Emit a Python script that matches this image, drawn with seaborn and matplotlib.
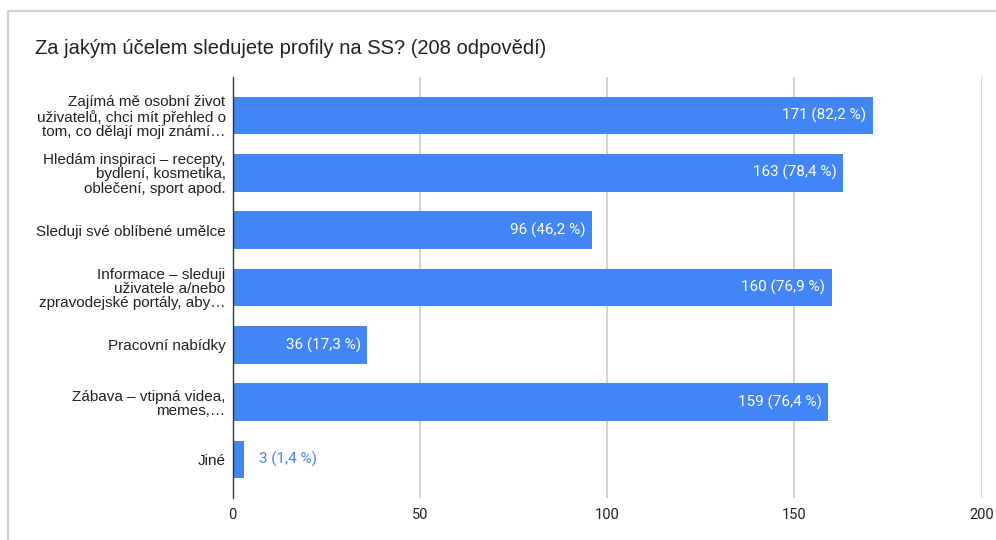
import matplotlib
matplotlib.use("Agg")
import matplotlib.pyplot as plt
import seaborn as sns
import pandas as pd
from matplotlib.lines import Line2D

categories = [
    "Zajímá mě osobní život\nuživatelů, chci mít přehled o\ntom, co dělají moji známí…",
    "Hledám inspiraci – recepty,\nbydlení, kosmetika,\noblečení, sport apod.",
    "Sleduji své oblíbené umělce",
    "Informace – sleduji\nuživatele a/nebo\nzpravodejské portály, aby…",
    "Pracovní nabídky",
    "Zábava – vtipná videa,\nmemes,…",
    "Jiné",
]
counts = [171, 163, 96, 160, 36, 159, 3]
percents = ["82,2", "78,4", "46,2", "76,9", "17,3", "76,4", "1,4"]
xticks = [0, 50, 100, 150, 200]
title = "Za jakým účelem sledujete profily na SS? (208 odpovědí)"

BLUE = "#4285F4"

sns.set_theme(style="white")
plt.rcParams["font.family"] = ["Liberation Sans", "DejaVu Sans"]

df = pd.DataFrame({"kategorie": categories, "pocet": counts})

W, H = 996, 540
fig = plt.figure(figsize=(W / 100, H / 100), dpi=100)
ax = fig.add_axes([232.5 / W, (H - 498) / H, (981.5 - 232.5) / W, (498 - 77) / H])

sns.barplot(data=df, x="pocet", y="kategorie", orient="h", color=BLUE,
            saturation=1, width=0.655, ax=ax, zorder=3)
for p in ax.patches:
    p.set_edgecolor("none")

ax.set_xlim(0, 200)
ax.set_ylim(6.67, -0.67)
ax.set_xticks(xticks)
ax.set_xticklabels([str(t) for t in xticks], fontfamily="Roboto", fontsize=10.5, color="#222222")
ax.set_xlabel("")
ax.set_ylabel("")
ax.tick_params(axis="x", length=0, pad=7)
ax.tick_params(axis="y", length=0, pad=5)
for lab in ax.get_yticklabels():
    lab.set_fontsize(11)
    lab.set_color("#222222")
    lab.set_linespacing(1.03)
    lab.set_horizontalalignment("right")

for s in ["top", "right", "bottom"]:
    ax.spines[s].set_visible(False)
ax.spines["left"].set_color("#333333")
ax.spines["left"].set_linewidth(1.0)
ax.spines["left"].set_zorder(5)

for t in xticks[1:]:
    ax.axvline(t, color="#cccccc", lw=1.2, zorder=1)

for i, (c, pc) in enumerate(zip(counts, percents)):
    txt = f"{c} ({pc} %)"
    if c > 20:
        ax.text(c - 1.7, i, txt, ha="right", va="center", color="white",
                fontsize=11, fontfamily="Roboto", zorder=6)
    else:
        ax.text(c + 4.0, i, txt, ha="left", va="center", color=BLUE,
                fontsize=11, fontfamily="Roboto", zorder=6)

fig.text(35 / W, 1 - 48 / H, title, ha="left", va="center", fontsize=14.5, color="#222222")

# card border
fig.add_artist(Line2D([8 / W, 1], [1 - 11 / H, 1 - 11 / H], transform=fig.transFigure,
                      color="#d0d0d0", lw=1.6))
fig.add_artist(Line2D([8 / W, 8 / W], [0, 1 - 11 / H], transform=fig.transFigure,
                      color="#d0d0d0", lw=1.6))

fig.savefig("out.png", dpi=100)
